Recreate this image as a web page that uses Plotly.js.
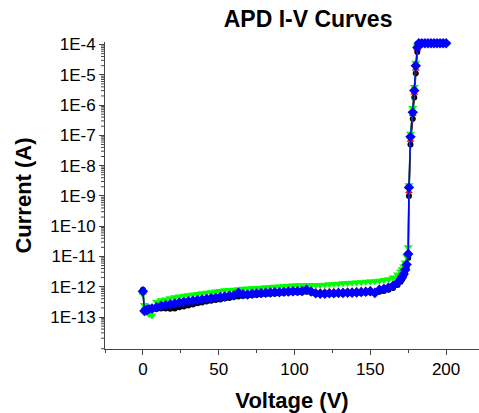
<!DOCTYPE html>
<html>
<head>
<meta charset="utf-8">
<script src="https://cdn.plot.ly/plotly-3.0.1.min.js"></script>
<style>
  html, body { margin: 0; padding: 0; background: #fff; }
  #chart { width: 479px; height: 413px; }
</style>
</head>
<body>
<div id="chart"></div>
<script>
// Bias voltage (V), shared by all four sweeps
const voltage = [
  0, 1, 2, 3, 4,
  6, 9, 12, 15, 18, 21, 24, 27, 30, 33,
  36, 39, 42, 45, 48, 51, 54, 57, 60, 63,
  66, 69, 72, 75, 78, 81, 84, 87, 90, 93,
  96, 99, 102, 105, 108, 111, 114, 117, 120, 123,
  126, 129, 132, 135, 138, 141, 144, 147, 150, 153,
  156, 159, 162, 165, 168,
  170, 171, 172, 173, 174, 175, 175.5, 176.5, 178, 179, 180, 181,
  182, 184, 186, 188, 190, 192, 194, 196, 198, 200
];

// Current (A) — black sweep
const currentBlack = [
  7.94e-13, 1.78e-13, 1.58e-13, 1.58e-13, 1.66e-13,
  1.74e-13, 1.82e-13, 1.91e-13, 1.91e-13, 1.86e-13, 1.91e-13, 2.09e-13, 2.24e-13, 2.40e-13, 2.57e-13,
  2.82e-13, 3.02e-13, 3.24e-13, 3.47e-13, 3.63e-13, 3.80e-13, 4.07e-13, 4.27e-13, 4.57e-13, 4.79e-13,
  4.90e-13, 5.01e-13, 5.25e-13, 5.37e-13, 5.50e-13, 5.62e-13, 5.75e-13, 5.89e-13, 6.03e-13, 6.17e-13,
  6.31e-13, 6.46e-13, 6.46e-13, 6.46e-13, 6.76e-13, 6.31e-13, 5.75e-13, 5.62e-13, 5.62e-13, 5.75e-13,
  5.75e-13, 5.89e-13, 5.89e-13, 6.03e-13, 6.03e-13, 6.17e-13, 6.17e-13, 6.31e-13, 6.46e-13, 6.03e-13,
  6.76e-13, 7.24e-13, 7.94e-13, 9.12e-13, 1.15e-12,
  1.45e-12, 1.74e-12, 2.09e-12, 2.75e-12, 3.98e-12, 8.91e-12, 1.00e-9, 5.01e-8, 3.55e-7, 1.78e-6, 1.12e-5, 5.62e-5,
  1.08e-4, 1.08e-4, 1.08e-4, 1.08e-4, 1.08e-4, 1.08e-4, 1.08e-4, 1.08e-4, 1.08e-4, 1.08e-4
];

// Current (A) — red sweep
const currentRed = [
  6.31e-13, 1.91e-13, 1.82e-13, 1.91e-13, 2.00e-13,
  2.09e-13, 2.29e-13, 2.57e-13, 2.75e-13, 2.88e-13, 3.09e-13, 3.31e-13, 3.47e-13, 3.63e-13, 3.80e-13,
  3.98e-13, 4.17e-13, 4.37e-13, 4.57e-13, 4.79e-13, 5.01e-13, 5.25e-13, 5.50e-13, 5.75e-13, 6.46e-13,
  6.17e-13, 6.17e-13, 6.46e-13, 6.61e-13, 6.76e-13, 6.92e-13, 7.08e-13, 7.24e-13, 7.24e-13, 7.41e-13,
  7.59e-13, 7.76e-13, 7.94e-13, 7.94e-13, 8.32e-13, 7.76e-13, 7.08e-13, 6.92e-13, 6.92e-13, 7.08e-13,
  7.08e-13, 7.24e-13, 7.24e-13, 7.41e-13, 7.41e-13, 7.59e-13, 7.76e-13, 7.94e-13, 8.13e-13, 7.41e-13,
  8.91e-13, 9.55e-13, 1.05e-12, 1.20e-12, 1.55e-12,
  2.04e-12, 2.45e-12, 3.02e-12, 4.07e-12, 6.31e-12, 1.41e-11, 1.41e-9, 7.08e-8, 5.01e-7, 2.51e-6, 1.58e-5, 7.08e-5,
  1.09e-4, 1.09e-4, 1.09e-4, 1.09e-4, 1.09e-4, 1.09e-4, 1.09e-4, 1.09e-4, 1.09e-4, 1.09e-4
];

// Current (A) — green sweep
const currentGreen = [
  5.62e-13, 2.51e-13, 1.78e-13, 1.41e-13, 1.26e-13,
  1.12e-13, 3.16e-13, 3.55e-13, 3.80e-13, 4.17e-13, 4.47e-13, 4.79e-13, 5.01e-13, 5.25e-13, 5.50e-13,
  5.75e-13, 6.03e-13, 6.31e-13, 6.61e-13, 6.92e-13, 7.24e-13, 7.59e-13, 7.76e-13, 7.94e-13, 8.32e-13,
  8.51e-13, 8.71e-13, 8.91e-13, 9.12e-13, 9.33e-13, 9.55e-13, 9.77e-13, 1.00e-12, 1.02e-12, 1.05e-12,
  1.07e-12, 1.10e-12, 1.12e-12, 1.12e-12, 1.15e-12, 1.15e-12, 1.12e-12, 1.15e-12, 1.17e-12, 1.20e-12,
  1.23e-12, 1.26e-12, 1.29e-12, 1.32e-12, 1.35e-12, 1.38e-12, 1.41e-12, 1.45e-12, 1.48e-12, 1.51e-12,
  1.58e-12, 1.66e-12, 1.78e-12, 2.00e-12, 2.51e-12,
  3.16e-12, 3.80e-12, 4.68e-12, 6.31e-12, 1.00e-11, 2.00e-11, 2.24e-9, 1.12e-7, 7.94e-7, 3.98e-6, 2.51e-5, 8.91e-5,
  1.10e-4, 1.10e-4, 1.10e-4, 1.10e-4, 1.10e-4, 1.10e-4, 1.10e-4, 1.10e-4, 1.10e-4, 1.10e-4
];

// Current (A) — blue sweep
const currentBlue = [
  7.10e-13, 1.58e-13, 1.66e-13, 1.74e-13, 1.82e-13,
  1.91e-13, 2.09e-13, 2.34e-13, 2.51e-13, 2.63e-13, 2.82e-13, 3.02e-13, 3.16e-13, 3.31e-13, 3.47e-13,
  3.63e-13, 3.80e-13, 3.98e-13, 4.17e-13, 4.37e-13, 4.57e-13, 4.79e-13, 5.01e-13, 5.25e-13, 6.31e-13,
  5.62e-13, 5.55e-13, 5.89e-13, 6.03e-13, 6.17e-13, 6.31e-13, 6.46e-13, 6.61e-13, 6.55e-13, 6.76e-13,
  6.92e-13, 7.08e-13, 7.24e-13, 7.24e-13, 7.94e-13, 6.92e-13, 6.03e-13, 5.89e-13, 5.89e-13, 6.03e-13,
  6.03e-13, 6.17e-13, 6.17e-13, 6.31e-13, 6.31e-13, 6.46e-13, 6.61e-13, 6.76e-13, 7.08e-13, 6.17e-13,
  7.94e-13, 8.51e-13, 9.33e-13, 1.07e-12, 1.38e-12,
  1.82e-12, 2.19e-12, 2.63e-12, 3.55e-12, 5.37e-12, 1.20e-11, 1.91e-9, 8.91e-8, 5.75e-7, 3.02e-6, 2.00e-5, 7.94e-5,
  1.10e-4, 1.10e-4, 1.10e-4, 1.10e-4, 1.10e-4, 1.10e-4, 1.10e-4, 1.10e-4, 1.10e-4, 1.10e-4
];

const yTickVals = [1e-4, 1e-5, 1e-6, 1e-7, 1e-8, 1e-9, 1e-10, 1e-11, 1e-12, 1e-13];
const yTickText = ['1E-4', '1E-5', '1E-6', '1E-7', '1E-8', '1E-9', '1E-10', '1E-11', '1E-12', '1E-13'];
const xTickVals = [0, 50, 100, 150, 200];

const FONT = 'Liberation Sans, Arial, Helvetica, sans-serif';
const AXIS_COLOR = '#444444';
const PLOT_W = 479 - 105;
const Y_RANGE = [-14.057, -3.917];

// Minor log ticks (2..9 in each decade) drawn as short outside marks on the paper
const minorShapes = [];
for (let e = -15; e <= -4; e++) {
  for (let m = 2; m <= 9; m++) {
    const lv = e + Math.log10(m);
    if (lv < Y_RANGE[0] || lv > Y_RANGE[1]) continue;
    const py = (lv - Y_RANGE[0]) / (Y_RANGE[1] - Y_RANGE[0]);
    minorShapes.push({
      type: 'line', xref: 'paper', yref: 'paper',
      x0: -4 / PLOT_W, x1: 0, y0: py, y1: py,
      line: { color: AXIS_COLOR, width: 1 }, layer: 'above'
    });
  }
}

function sweep(y, color, symbol, size) {
  return {
    x: voltage, y: y, type: 'scatter', mode: 'lines+markers',
    line: { color: color, width: 1.5 },
    marker: { color: color, symbol: symbol, size: size },
    cliponaxis: false, showlegend: false, hoverinfo: 'x+y'
  };
}

const traces = [
  sweep(currentBlack, '#000000', 'circle', 6),
  sweep(currentRed, '#ff0000', 'triangle-up', 7),
  sweep(currentGreen, '#00ff00', 'triangle-down', 8),
  sweep(currentBlue, '#0000ff', 'diamond', 8)
];

const layout = {
  width: 479, height: 413,
  margin: { l: 105, r: 0, t: 42, b: 64 },
  paper_bgcolor: '#ffffff', plot_bgcolor: '#ffffff',
  font: { family: FONT, color: '#000000', size: 17 },
  title: {
    text: '<b>APD I-V Curves</b>',
    font: { family: FONT, size: 23, color: '#000000' },
    xref: 'paper', x: 0.543, xanchor: 'center',
    yref: 'container', y: 1 - 19 / 413, yanchor: 'middle'
  },
  shapes: minorShapes,
  xaxis: {
    range: [-25, 221.7],
    tickmode: 'array', tickvals: xTickVals,
    ticks: 'outside', ticklen: 5, tickwidth: 1, tickcolor: AXIS_COLOR,
    minor: { ticks: 'outside', ticklen: 3, tickwidth: 1, tickcolor: AXIS_COLOR, dtick: 25, tick0: 0, showgrid: false },
    showline: true, linecolor: AXIS_COLOR, linewidth: 1,
    showgrid: false, zeroline: false,
    tickfont: { family: FONT, size: 17, color: '#000000' },
    title: { text: '<b>Voltage (V)</b>', font: { family: FONT, size: 22, color: '#000000' }, standoff: 14 },
    automargin: false
  },
  yaxis: {
    type: 'log',
    range: Y_RANGE,
    tickmode: 'array', tickvals: yTickVals, ticktext: yTickText,
    ticks: 'outside', ticklen: 5, tickwidth: 1, tickcolor: AXIS_COLOR,
    showline: true, linecolor: AXIS_COLOR, linewidth: 1,
    showgrid: false, zeroline: false,
    tickfont: { family: FONT, size: 17, color: '#000000' },
    title: { text: '<b>Current (A)</b>', font: { family: FONT, size: 22, color: '#000000' }, standoff: 12 },
    automargin: false
  }
};

Plotly.newPlot('chart', traces, layout, { displayModeBar: false, staticPlot: true });
</script>
</body>
</html>
